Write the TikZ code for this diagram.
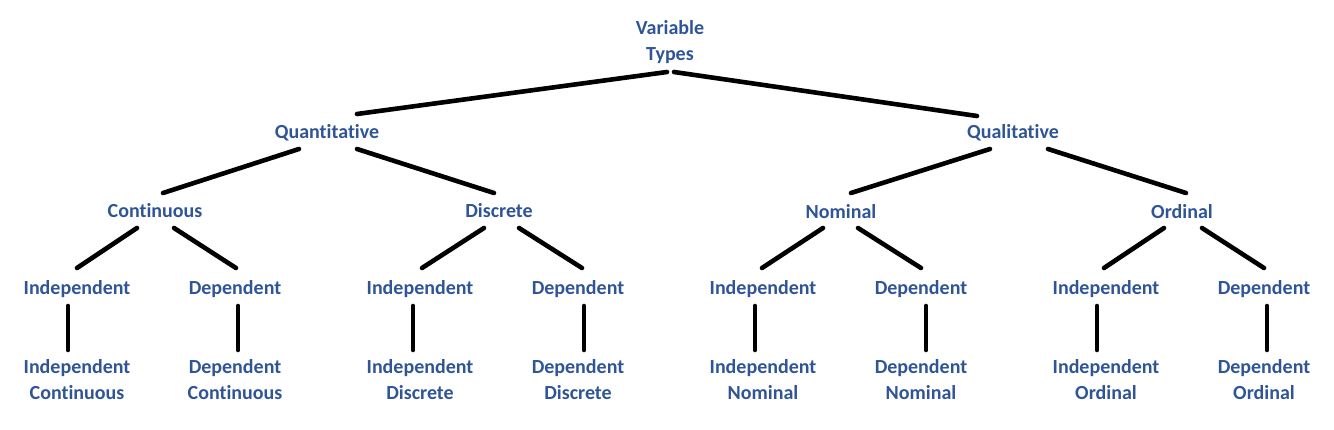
\documentclass[tikz,border=0pt]{standalone}
\usepackage{fontspec}
\setmainfont{Carlito}[Ligatures=NoCommon]
\usepackage{tikz}
\definecolor{vtblue}{RGB}{47,85,151}
\tikzset{
    vt/.style={text=vtblue,font=\bfseries\fontsize{20}{26}\selectfont,align=center,inner sep=0pt},
    edge/.style={line width=4.6pt,line cap=round}
}
% a branch: line from a shifted point of one node to a shifted point of another
\newcommand\branch[4]{\draw[edge] ([shift={#2}]#1.center) -- ([shift={#4}]#3.center);}

\begin{document}
\begin{tikzpicture}[x=1pt,y=-1pt]
    \useasboundingbox (0,0) rectangle (1334,430);
    \node(root)[vt] at (670,42) {Variable\\Types};
    \node(qn)[vt] at (327,133) {Quantitative};
    \node(ql)[vt] at (1013,133) {Qualitative};
    \node(co)[vt] at (155,211) {Continuous};
    \node(di)[vt] at (499,211) {Discrete};
    \node(no)[vt] at (841,212) {Nominal};
    \node(or)[vt] at (1182,212) {Ordinal};
    % second row
    \node(coi)[vt] at (77,289) {Independent};
    \node(cod)[vt] at (235,289) {Dependent};
    \node(dii)[vt] at (420,289) {Independent};
    \node(did)[vt] at (578,289) {Dependent};
    \node(noi)[vt] at (763,289) {Independent};
    \node(nod)[vt] at (921,289) {Dependent};
    \node(ori)[vt] at (1106,289) {Independent};
    \node(ord)[vt] at (1264,289) {Dependent};
    % leaves
    \node(coil)[vt] at (77,380) {Independent\\Continuous};
    \node(codl)[vt] at (235,380) {Dependent\\Continuous};
    \node(diil)[vt] at (420,380) {Independent\\Discrete};
    \node(didl)[vt] at (578,380) {Dependent\\Discrete};
    \node(noil)[vt] at (763,380) {Independent\\Nominal};
    \node(nodl)[vt] at (921,380) {Dependent\\Nominal};
    \node(oril)[vt] at (1106,380) {Independent\\Ordinal};
    \node(ordl)[vt] at (1264,380) {Dependent\\Ordinal};

    \branch{root}{(-3,30)}{qn}{(30,-19)}
    \branch{root}{(4,30)}{ql}{(-36,-17)}
    \branch{qn}{(-28,16)}{co}{(8,-18)}
    \branch{qn}{(30,16)}{di}{(-5,-18)}
    \branch{ql}{(-23,16)}{no}{(10,-19)}
    \branch{ql}{(35,16)}{or}{(4,-19)}
    \branch{co}{(-18,17)}{coi}{(0,-21)}
    \branch{co}{(19,17)}{cod}{(1,-21)}
    \branch{di}{(-15,17)}{dii}{(2,-21)}
    \branch{di}{(20,17)}{did}{(4,-21)}
    \branch{no}{(-18,16)}{noi}{(-1,-21)}
    \branch{no}{(17,16)}{nod}{(0,-21)}
    \branch{or}{(-18,16)}{ori}{(-2,-21)}
    \branch{or}{(20,16)}{ord}{(0,-21)}
    % straight down to the leaves
    \branch{coi}{(-9,17)}{coil}{(-9,-30)}
    \branch{cod}{(3,17)}{codl}{(3,-30)}
    \branch{dii}{(-7,17)}{diil}{(-7,-30)}
    \branch{did}{(6,17)}{didl}{(6,-30)}
    \branch{noi}{(-8,17)}{noil}{(-8,-30)}
    \branch{nod}{(5,17)}{nodl}{(5,-30)}
    \branch{ori}{(-9,17)}{oril}{(-9,-30)}
    \branch{ord}{(3,17)}{ordl}{(3,-30)}
\end{tikzpicture}
\end{document}
